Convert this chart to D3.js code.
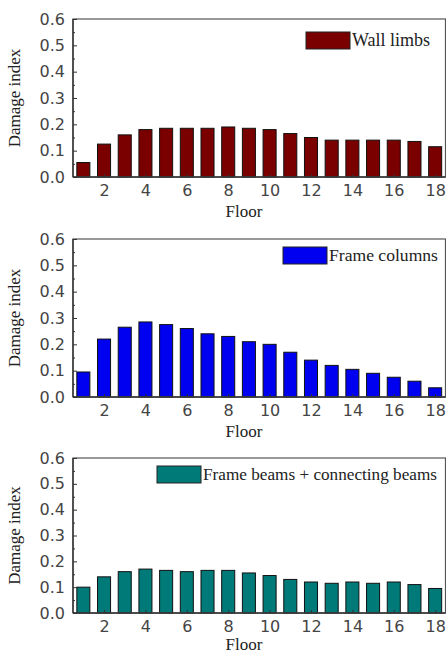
<!DOCTYPE html>
<html>
<head>
<meta charset="utf-8">
<script src="https://cdn.jsdelivr.net/npm/d3@7/dist/d3.min.js"></script>
<style>
  html, body { margin: 0; padding: 0; background: #fff; }
  svg { display: block; }
</style>
</head>
<body>
<svg id="chart" width="446" height="654"></svg>
<script>
const floors = [1, 2, 3, 4, 5, 6, 7, 8, 9, 10, 11, 12, 13, 14, 15, 16, 17, 18];
const wallLimbs = [0.055, 0.125, 0.16, 0.18, 0.185, 0.185, 0.185, 0.19, 0.185, 0.18, 0.165, 0.15, 0.14, 0.14, 0.14, 0.14, 0.135, 0.115];
const frameColumns = [0.095, 0.22, 0.265, 0.285, 0.275, 0.26, 0.24, 0.23, 0.21, 0.2, 0.17, 0.14, 0.12, 0.105, 0.09, 0.075, 0.06, 0.035];
const frameBeams = [0.1, 0.14, 0.16, 0.17, 0.165, 0.16, 0.165, 0.165, 0.155, 0.145, 0.13, 0.12, 0.115, 0.12, 0.115, 0.12, 0.11, 0.095];
const seriesNames = ["Wall limbs", "Frame columns", "Frame beams + connecting beams"];
const yTicks = [0, 0.1, 0.2, 0.3, 0.4, 0.5, 0.6];
const yMinorTicks = [0.05, 0.15, 0.25, 0.35, 0.45, 0.55];
const xTicks = [2, 4, 6, 8, 10, 12, 14, 16, 18];
const yTitle = "Damage index";
const xTitle = "Floor";

const colors = ["#7a0000", "#0000f0", "#007a78"];
const panels = [
  { values: wallLimbs, top: 19, bottom: 177, legendX: 306, legendY: 32 },
  { values: frameColumns, top: 239, bottom: 397, legendX: 283, legendY: 247 },
  { values: frameBeams, top: 458, bottom: 613, legendX: 157, legendY: 466 }
];

const svg = d3.select("#chart");
const left = 73, right = 445.5;

const x = d3.scaleLinear().domain([0.5, 18.5]).range([left, right]);
const barW = (x(2) - x(1)) * 0.63;

panels.forEach((p, i) => {
  const y = d3.scaleLinear().domain([0, 0.6]).range([p.bottom, p.top]);
  const g = svg.append("g");

  // bars
  g.selectAll("rect.bar").data(floors).enter().append("rect")
    .attr("class", "bar")
    .attr("x", d => x(d) - barW / 2)
    .attr("width", barW)
    .attr("y", (d, k) => y(p.values[k]))
    .attr("height", (d, k) => y(0) - y(p.values[k]))
    .attr("fill", colors[i])
    .attr("stroke", "#111")
    .attr("stroke-width", 1);

  // frame
  g.append("rect")
    .attr("x", left).attr("y", p.top)
    .attr("width", right - left).attr("height", p.bottom - p.top)
    .attr("fill", "none").attr("stroke", "#555").attr("stroke-width", 1.2);
  g.append("line").attr("x1", left).attr("x2", left).attr("y1", p.top).attr("y2", p.bottom)
    .attr("stroke", "#333").attr("stroke-width", 1.4);
  g.append("line").attr("x1", left).attr("x2", right).attr("y1", p.bottom).attr("y2", p.bottom)
    .attr("stroke", "#333").attr("stroke-width", 1.4);

  // y axis
  const yAxis = d3.axisLeft(y).tickValues(yTicks).tickFormat(d3.format(".1f")).tickSize(-4).tickPadding(8);
  const ya = g.append("g").attr("transform", `translate(${left},0)`).call(yAxis);
  ya.select(".domain").remove();
  ya.selectAll(".tick line").attr("stroke", "#333");
  ya.selectAll(".tick text")
    .attr("font-family", "DejaVu Sans").attr("font-size", 16).attr("fill", "#444");
  const yMinor = d3.axisLeft(y).tickValues(yMinorTicks).tickFormat("").tickSize(-2);
  const ym = g.append("g").attr("transform", `translate(${left},0)`).call(yMinor);
  ym.select(".domain").remove();
  ym.selectAll(".tick line").attr("stroke", "#333");

  // x axis
  const xAxis = d3.axisBottom(x).tickValues(xTicks).tickFormat(d3.format("d")).tickSize(-3).tickPadding(8);
  const xa = g.append("g").attr("transform", `translate(0,${p.bottom})`).call(xAxis);
  xa.select(".domain").remove();
  xa.selectAll(".tick line").attr("stroke", "#333");
  xa.selectAll(".tick text")
    .attr("font-family", "DejaVu Sans").attr("font-size", 16).attr("fill", "#444");

  // titles
  g.append("text")
    .attr("transform", `translate(20,${(p.top + p.bottom) / 2}) rotate(-90)`)
    .attr("text-anchor", "middle")
    .attr("font-family", "Liberation Serif").attr("font-size", 17).attr("fill", "#222")
    .text(yTitle);
  g.append("text")
    .attr("x", 244).attr("y", Math.min(p.bottom + 40, 650))
    .attr("text-anchor", "middle")
    .attr("font-family", "Liberation Serif").attr("font-size", 17).attr("fill", "#222")
    .text(xTitle);

  // legend
  g.append("rect")
    .attr("x", p.legendX).attr("y", p.legendY).attr("width", 44).attr("height", 17)
    .attr("fill", colors[i]).attr("stroke", "#222").attr("stroke-width", 1);
  const lt = g.append("text")
    .attr("x", p.legendX + 46).attr("y", p.legendY + 14)
    .attr("font-family", "Liberation Serif").attr("font-size", 18).attr("fill", "#222")
    .text(seriesNames[i]);
  const avail = right - 7 - (p.legendX + 46);
  const w = lt.node().getComputedTextLength();
  if (w > avail) {
    lt.attr("font-size", Math.floor(18 * avail / w * 10) / 10);
  }
});
</script>
</body>
</html>
